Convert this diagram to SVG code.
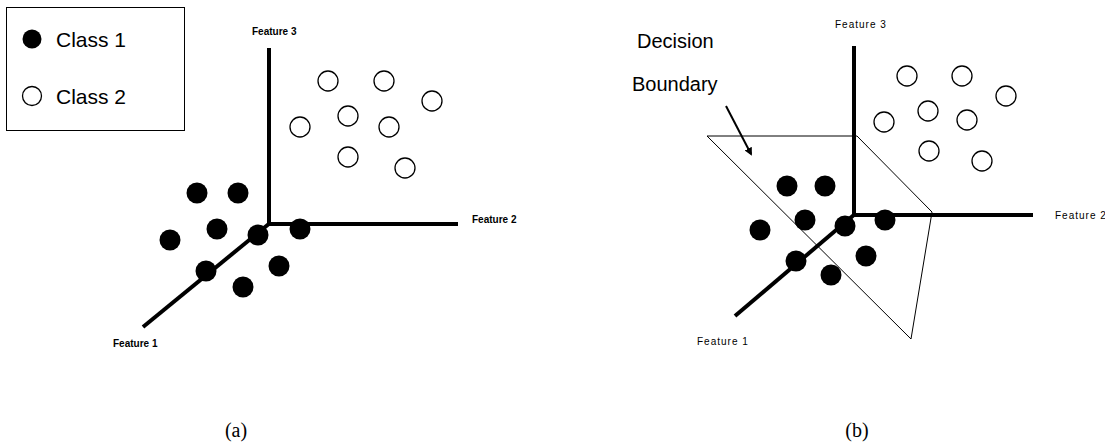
<svg xmlns="http://www.w3.org/2000/svg" width="1105" height="448" viewBox="0 0 1105 448">
<style>
.axis{stroke:#000;stroke-width:4;fill:none;stroke-linecap:butt}
.c1{fill:#000}
.c2{fill:#fff;stroke:#000;stroke-width:1.3}
.fa{font-family:"Liberation Sans",Arial,sans-serif;font-size:10px;font-weight:bold;fill:#000}
.fb{font-family:"Liberation Sans",Arial,sans-serif;font-size:10px;letter-spacing:1px;fill:#000}
.big{font-family:"Liberation Sans",Arial,sans-serif;font-size:20px;fill:#000}
.leg{font-family:"Liberation Sans",Arial,sans-serif;font-size:21px;fill:#000}
.cap{font-family:"Liberation Serif","Times New Roman",serif;font-size:20px;fill:#000;text-anchor:middle}
</style>
<defs>
<marker id="ah" markerWidth="8" markerHeight="8" refX="6" refY="4" orient="auto" markerUnits="userSpaceOnUse">
<path d="M0,0 L8,4 L0,8 Z" fill="#000"/>
</marker>
</defs>
<rect width="1105" height="448" fill="#fff"/>

<g id="legend">
<rect x="6.5" y="7.5" width="178" height="123" fill="#fff" stroke="#000" stroke-width="1"/>
<circle class="c1" cx="32" cy="39" r="9.5"/>
<text class="leg" x="56" y="47">Class 1</text>
<circle class="c2" cx="32" cy="96" r="9.5"/>
<text class="leg" x="56" y="104">Class 2</text>
</g>

<g id="panel-a-axes">
<line class="axis" x1="269" y1="48" x2="269" y2="226"/>
<line class="axis" x1="267" y1="224" x2="458" y2="224"/>
<line class="axis" x1="270" y1="223" x2="143" y2="327"/>
<text class="fa" x="252" y="35">Feature 3</text>
<text class="fa" x="472" y="223">Feature 2</text>
<text class="fa" x="113" y="347">Feature 1</text>
</g>

<g id="panel-a-class1">
<circle class="c1" cx="197" cy="193" r="10.5"/>
<circle class="c1" cx="238" cy="193" r="10.5"/>
<circle class="c1" cx="217" cy="229" r="10.5"/>
<circle class="c1" cx="170" cy="240" r="10.5"/>
<circle class="c1" cx="258" cy="235" r="10.5"/>
<circle class="c1" cx="300" cy="229" r="10.5"/>
<circle class="c1" cx="206" cy="271" r="10.5"/>
<circle class="c1" cx="279" cy="266" r="10.5"/>
<circle class="c1" cx="243" cy="287" r="10.5"/>
</g>

<g id="panel-a-class2">
<circle class="c2" cx="328" cy="81" r="10"/>
<circle class="c2" cx="384" cy="81" r="10"/>
<circle class="c2" cx="432" cy="101" r="10"/>
<circle class="c2" cx="348" cy="116" r="10"/>
<circle class="c2" cx="300" cy="127" r="10"/>
<circle class="c2" cx="389" cy="127" r="10"/>
<circle class="c2" cx="348" cy="157" r="10"/>
<circle class="c2" cx="405" cy="168" r="10"/>
</g>

<g id="panel-b-plane">
<polygon points="707,136 857,136 932,212 911,339" fill="none" stroke="#000" stroke-width="1"/>
</g>

<g id="panel-b-axes">
<line class="axis" x1="854" y1="46" x2="854" y2="217"/>
<line class="axis" x1="852" y1="215" x2="1033" y2="215"/>
<line class="axis" x1="855" y1="214" x2="735" y2="316"/>
<text class="fb" x="835" y="28">Feature 3</text>
<text class="fb" x="1055" y="219">Feature 2</text>
<text class="fb" x="697" y="345">Feature 1</text>
</g>

<g id="panel-b-class1">
<circle class="c1" cx="787" cy="186" r="10.5"/>
<circle class="c1" cx="825" cy="186" r="10.5"/>
<circle class="c1" cx="805" cy="220" r="10.5"/>
<circle class="c1" cx="760" cy="230" r="10.5"/>
<circle class="c1" cx="845" cy="226" r="10.5"/>
<circle class="c1" cx="885" cy="220" r="10.5"/>
<circle class="c1" cx="796" cy="261" r="10.5"/>
<circle class="c1" cx="866" cy="256" r="10.5"/>
<circle class="c1" cx="831" cy="275" r="10.5"/>
</g>

<g id="panel-b-class2">
<circle class="c2" cx="907" cy="76" r="10"/>
<circle class="c2" cx="962" cy="76" r="10"/>
<circle class="c2" cx="1006" cy="96" r="10"/>
<circle class="c2" cx="928" cy="111" r="10"/>
<circle class="c2" cx="884" cy="122" r="10"/>
<circle class="c2" cx="967" cy="120" r="10"/>
<circle class="c2" cx="929" cy="151" r="10"/>
<circle class="c2" cx="982" cy="161" r="10"/>
</g>

<g id="decision-label">
<text class="big" x="637" y="48">Decision</text>
<text class="big" x="632" y="91">Boundary</text>
</g>

<g id="connectors">
<line x1="726" y1="106" x2="751" y2="154" stroke="#000" stroke-width="2" marker-end="url(#ah)"/>
</g>

<g id="captions">
<text class="cap" x="236" y="437">(a)</text>
<text class="cap" x="857" y="437">(b)</text>
</g>
</svg>
